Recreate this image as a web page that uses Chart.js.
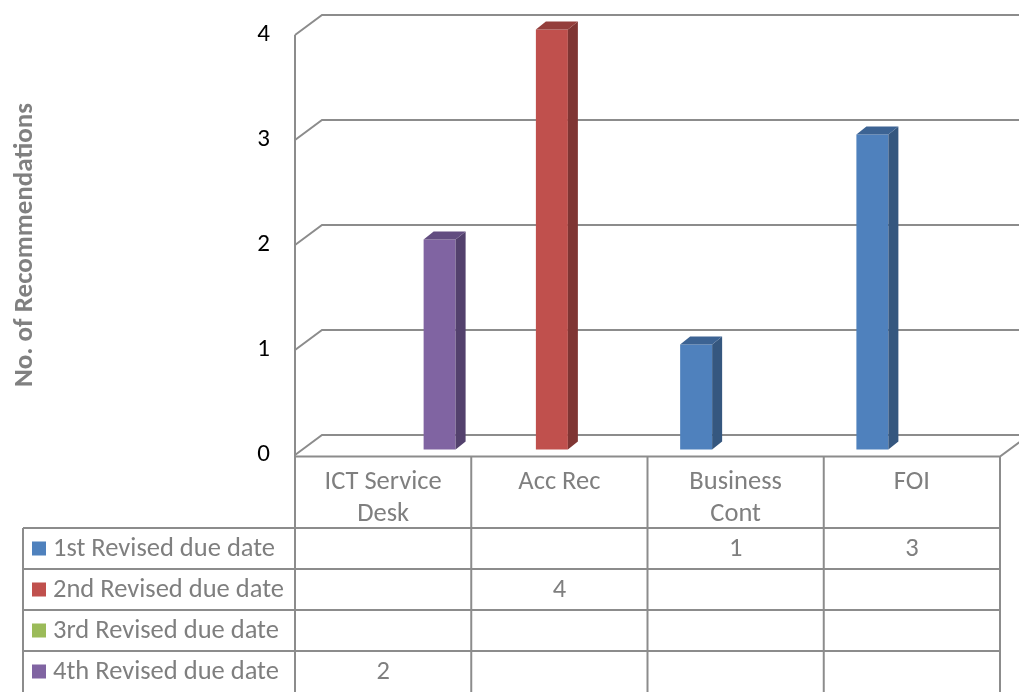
<!DOCTYPE html>
<html><head><meta charset="utf-8">
<script src="https://cdn.jsdelivr.net/npm/chart.js@4"></script>
<style>html,body{margin:0;padding:0;background:#fff;overflow:hidden}</style>
</head><body>
<canvas id="c" width="1019" height="692"></canvas>
<script>
// ---- data ----
const categories = [["ICT Service","Desk"], "Acc Rec", ["Business","Cont"], "FOI"];
const seriesNames = ["1st Revised due date","2nd Revised due date","3rd Revised due date","4th Revised due date"];
const firstRevised  = [null, null, 1, 3];
const secondRevised = [null, 4, null, null];
const thirdRevised  = [null, null, null, null];
const fourthRevised = [2, null, null, null];
const yTickValues = [0, 1, 2, 3, 4];
const yAxisTitle = "No. of Recommendations";

// ---- styles ----
const FONT = "Carlito, Calibri, Lato, 'Noto Sans', sans-serif";
const frontColors = ["#4F81BD", "#C0504D", "#9BBB59", "#8064A2"];
const sideColors  = ["#35577F", "#7F3533", "#67803A", "#53416D"];
const topColors   = ["#3C6393", "#943E3B", "#7A9645", "#624D80"];
const GRID = "#8C8C8C";
const TXT = "#7F7F7F";
const WALL_DX = 27, WALL_DY = -20;   // depth of walls
const BAR_DX = 8.5, BAR_DY = -5.5;   // bar plane offset
const FACE_DX = 10, FACE_DY = -8;    // bar depth

const seriesValues = [firstRevised, secondRevised, thirdRevised, fourthRevised];

const excel3d = {
  id: 'excel3d',
  beforeDatasetsDraw(chart) {
    const {ctx, chartArea: a, scales: {y}} = chart;
    ctx.save();
    ctx.strokeStyle = GRID; ctx.lineWidth = 2;
    ctx.beginPath();
    ctx.moveTo(a.left, y.getPixelForValue(yTickValues[yTickValues.length-1]));
    ctx.lineTo(a.left, a.bottom + 2);
    ctx.stroke();
    yTickValues.forEach(v => {
      const py = y.getPixelForValue(v);
      ctx.beginPath();
      ctx.moveTo(a.left, py);
      ctx.lineTo(a.left + WALL_DX, py + WALL_DY);
      ctx.lineTo(chart.width + 40, py + WALL_DY);
      ctx.stroke();
    });
    ctx.beginPath();
    ctx.moveTo(a.left, a.bottom + 1.5);
    ctx.lineTo(a.right, a.bottom + 1.5);
    ctx.lineTo(a.right + WALL_DX, a.bottom + 1.5 + WALL_DY);
    ctx.stroke();
    ctx.restore();
    ctx.save();
    ctx.translate(BAR_DX, BAR_DY);
  },
  afterDatasetsDraw(chart) {
    const {ctx} = chart;
    chart.data.datasets.forEach((ds, di) => {
      const meta = chart.getDatasetMeta(di);
      meta.data.forEach((el, i) => {
        if (ds.data[i] == null) return;
        const l = el.x - el.width/2, r = el.x + el.width/2, t = el.y, b = el.base;
        ctx.fillStyle = sideColors[di];
        ctx.beginPath();
        ctx.moveTo(r, t); ctx.lineTo(r + FACE_DX, t + FACE_DY);
        ctx.lineTo(r + FACE_DX, b + FACE_DY); ctx.lineTo(r, b); ctx.closePath(); ctx.fill();
        ctx.fillStyle = topColors[di];
        ctx.beginPath();
        ctx.moveTo(l, t); ctx.lineTo(l + FACE_DX, t + FACE_DY);
        ctx.lineTo(r + FACE_DX, t + FACE_DY); ctx.lineTo(r, t); ctx.closePath(); ctx.fill();
      });
    });
    ctx.restore();
  },
  afterDraw(chart) {
    const {ctx, chartArea: a} = chart;
    const n = categories.length;
    const cw = (a.right - a.left) / n;
    const headTop = a.bottom + 1.5;
    const rowTop = 528, rowH = 41, tableLeft = 23;
    ctx.save();
    ctx.strokeStyle = GRID; ctx.lineWidth = 2;
    for (let i = 0; i <= n; i++) {
      const x = a.left + i * cw;
      ctx.beginPath(); ctx.moveTo(x, headTop); ctx.lineTo(x, chart.height + 2); ctx.stroke();
    }
    ctx.beginPath(); ctx.moveTo(tableLeft, rowTop); ctx.lineTo(tableLeft, chart.height + 2); ctx.stroke();
    for (let r = 0; r < seriesNames.length; r++) {
      const yy = rowTop + r * rowH;
      ctx.beginPath(); ctx.moveTo(tableLeft, yy); ctx.lineTo(a.right, yy); ctx.stroke();
    }
    ctx.font = "26.5px " + FONT;
    ctx.fillStyle = TXT;
    ctx.textBaseline = 'middle';
    ctx.textAlign = 'center';
    categories.forEach((c, i) => {
      const lines = Array.isArray(c) ? c : [c];
      const cx = a.left + (i + 0.5) * cw;
      lines.forEach((ln, k) => ctx.fillText(ln, cx, headTop + 26 + k * 32));
    });
    seriesNames.forEach((s, r) => {
      const cy = rowTop + r * rowH + rowH / 2;
      ctx.fillStyle = frontColors[r];
      ctx.fillRect(32, cy - 7, 14, 14);
      ctx.fillStyle = TXT;
      ctx.textAlign = 'left';
      ctx.fillText(s, 53, cy + 1);
      ctx.textAlign = 'center';
      seriesValues[r].forEach((v, i) => {
        if (v == null) return;
        ctx.fillText(String(v), a.left + (i + 0.5) * cw, cy + 1);
      });
    });
    ctx.restore();
  }
};

new Chart(document.getElementById('c'), {
  type: 'bar',
  data: {
    labels: categories,
    datasets: seriesNames.map((name, i) => ({
      label: name,
      data: seriesValues[i],
      backgroundColor: frontColors[i],
      borderWidth: 0,
      categoryPercentage: 0.726,
      barPercentage: 1.0,
      clip: false
    }))
  },
  options: {
    responsive: false,
    animation: false,
    devicePixelRatio: 1,
    layout: { padding: { top: 35, right: 19, bottom: 237, left: 0 } },
    plugins: { legend: { display: false }, tooltip: { enabled: false } },
    scales: {
      x: { display: false },
      y: {
        min: 0, max: 4,
        afterFit(scale) { scale.width = 295; scale.paddingTop = 0; scale.paddingBottom = 0; },
        afterBuildTicks(scale) { scale.ticks = yTickValues.map(v => ({ value: v })); },
        grid: { display: false, drawTicks: false },
        border: { display: false },
        ticks: { padding: 25, color: '#000', font: { family: FONT, size: 25 } },
        title: {
          display: true, text: yAxisTitle, color: '#808080',
          font: { family: FONT, size: 27, weight: 'bold' },
          padding: { top: 9, bottom: 0 }
        }
      }
    }
  },
  plugins: [excel3d]
});
</script>
</body></html>
